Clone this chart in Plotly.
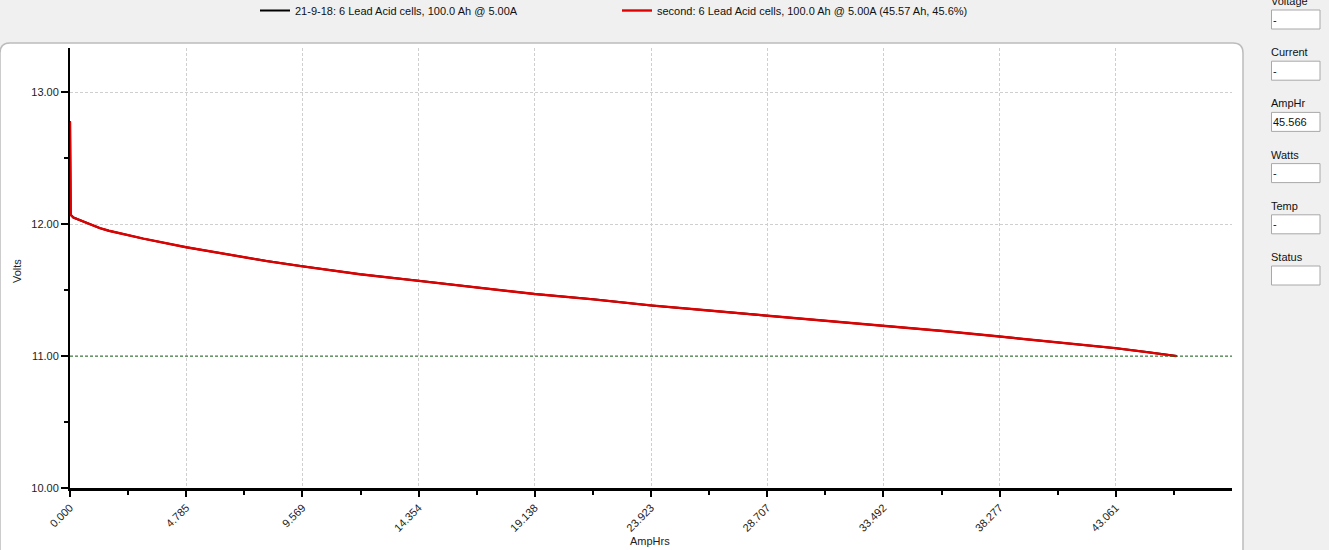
import plotly.graph_objects as go

# discharge log
amp_hrs = [0.0, 0.004, 0.03, 0.14, 0.41, 0.82, 1.23, 1.6, 2.06, 3.02, 4.785, 6.45,
           8.1, 9.569, 11.94, 14.354, 16.74, 19.138, 21.54, 23.923, 26.3,
           28.707, 31.15, 33.492, 35.95, 38.277, 40.77, 43.061, 44.33, 45.566]
volts = [12.78, 12.11, 12.07, 12.05, 12.03, 12.00, 11.97, 11.95, 11.93, 11.89, 11.825,
         11.77, 11.72, 11.68, 11.62, 11.57, 11.52, 11.47, 11.43, 11.384, 11.345,
         11.307, 11.27, 11.229, 11.19, 11.148, 11.105, 11.06, 11.03, 11.0]
cutoff_volts = 11.0

x_tick_labels = ["0.000", "4.785", "9.569", "14.354", "19.138", "23.923",
                 "28.707", "33.492", "38.277", "43.061"]
y_tick_labels = ["10.00", "11.00", "12.00", "13.00"]

series_names = ["21-9-18: 6 Lead Acid cells, 100.0 Ah @ 5.00A",
                "second: 6 Lead Acid cells, 100.0 Ah @ 5.00A"]

panel_labels = ["Voltage", "Current", "AmpHr", "Watts", "Temp", "Status"]
panel_values = ["-", "-", "%.3f" % amp_hrs[-1], "-", "-", ""]

FONT = "Liberation Sans, Arial, sans-serif"

# plot area in window pixels
L, R, T, B = 70, 1232, 48, 488


def px2x(px):
    return (px - L) / (R - L)


def px2y(py):
    return (B - py) / (B - T)


x_ticks = [float(t) for t in x_tick_labels]
step = x_ticks[1] - x_ticks[0]
x_max = x_ticks[-1] + step
x_minor = [t + step / 2 for t in x_ticks]
y_ticks = [float(t) for t in y_tick_labels]
y_minor = [t + 0.5 for t in y_ticks]

fig = go.Figure()
fig.add_trace(go.Scatter(x=amp_hrs, y=volts, mode='lines', name=series_names[0],
                         line=dict(color='black', width=2)))
fig.add_trace(go.Scatter(x=amp_hrs, y=volts, mode='lines',
                         name="%s (%.2f Ah, %.1f%%)" % (series_names[1], amp_hrs[-1], amp_hrs[-1]),
                         line=dict(color='#e00000', width=2.4)))

shapes = []
# white chart panel with rounded top corners
shapes.append(dict(type='path', xref='paper', yref='paper', xsizemode='pixel', ysizemode='pixel',
                   xanchor=0, yanchor=1,
                   path="M -70,-520 L -70,-5 Q -70,5 -60,5 L 1163,5 Q 1173,5 1173,-5 L 1173,-520 Z",
                   fillcolor='white', line=dict(color='#bcbcbc', width=1.5), layer='below'))
# cut-off line
shapes.append(dict(type='line', xref='paper', yref='y', x0=0, x1=1, y0=cutoff_volts, y1=cutoff_volts,
                   line=dict(color='#1e6e1e', width=1, dash='3px,2px')))
# little green arrow on the axis
shapes.append(dict(type='path', xref='x', yref='y', xsizemode='pixel', ysizemode='pixel',
                   xanchor=0, yanchor=cutoff_volts,
                   path="M -9,-1.5 L -5,-1.5 L -5,-3.5 L -1,0 L -5,3.5 L -5,1.5 L -9,1.5 Z",
                   fillcolor='#1e7a1e', line=dict(width=0)))

annotations = []
for i, (lab, val) in enumerate(zip(panel_labels, panel_values)):
    top = 10 + i * 51.2
    shapes.append(dict(type='rect', xref='paper', yref='paper',
                       x0=px2x(1271.5), x1=px2x(1320), y0=px2y(top), y1=px2y(top + 19),
                       fillcolor='white', line=dict(color='#a8a8a8', width=1)))
    annotations.append(dict(xref='paper', yref='paper', x=px2x(1269), y=px2y(top - 9),
                            xanchor='left', yanchor='middle', showarrow=False, text=lab,
                            font=dict(family=FONT, size=11, color='#111')))
    if val:
        annotations.append(dict(xref='paper', yref='paper', x=px2x(1271), y=px2y(top + 9.5),
                                xanchor='left', yanchor='middle', showarrow=False, text=val,
                                font=dict(family=FONT, size=11, color='#111')))

annotations.append(dict(xref='paper', yref='paper', x=px2x(650), y=px2y(541), showarrow=False,
                        xanchor='center', yanchor='middle',
                        text="AmpHrs", font=dict(family=FONT, size=11, color='#222')))
annotations.append(dict(xref='paper', yref='paper', x=px2x(17), y=px2y(271), showarrow=False,
                        xanchor='center', yanchor='middle',
                        text="Volts", textangle=-90, font=dict(family=FONT, size=11, color='#222')))

fig.update_layout(
    width=1329, height=550,
    margin=dict(l=L, r=1329 - R, t=T, b=550 - B, autoexpand=False),
    paper_bgcolor='#f0f0f0', plot_bgcolor='white',
    font=dict(family=FONT, size=11, color='#222'),
    shapes=shapes, annotations=annotations,
    showlegend=True,
    legend=dict(orientation='h', x=px2x(255), y=px2y(-4), xanchor='left', yanchor='top',
                entrywidth=317, entrywidthmode='pixels', bgcolor='rgba(0,0,0,0)',
                font=dict(family=FONT, size=11, color='#111'), traceorder='normal'),
)

fig.update_xaxes(range=[0, x_max], tickmode='array', tickvals=x_ticks, ticktext=x_tick_labels,
                 tickangle=-45, ticks='outside', ticklen=6, tickwidth=2, tickcolor='black',
                 tickfont=dict(family=FONT, size=11, color='#222'),
                 showline=True, linecolor='black', linewidth=3, zeroline=False,
                 showgrid=True, gridcolor='#cfcfcf', griddash='3px,2px', gridwidth=1,
                 minor=dict(tickvals=x_minor, ticks='outside', ticklen=4, tickwidth=2,
                            tickcolor='black', showgrid=False))
fig.update_yaxes(range=[10, 13.335], tickmode='array', tickvals=y_ticks, ticktext=y_tick_labels,
                 ticks='outside', ticklen=7, tickwidth=2, tickcolor='black',
                 tickfont=dict(family=FONT, size=11, color='#222'),
                 showline=True, linecolor='black', linewidth=2, zeroline=False,
                 showgrid=True, gridcolor='#cfcfcf', griddash='3px,2px', gridwidth=1,
                 minor=dict(tickvals=y_minor, ticks='outside', ticklen=4, tickwidth=2,
                            tickcolor='black', showgrid=False))

# page has a default body margin; drop it so the figure sits at the window corner
fig.write_html("out.html", config={'displayModeBar': False},
               post_script="document.body.style.margin='0';")
